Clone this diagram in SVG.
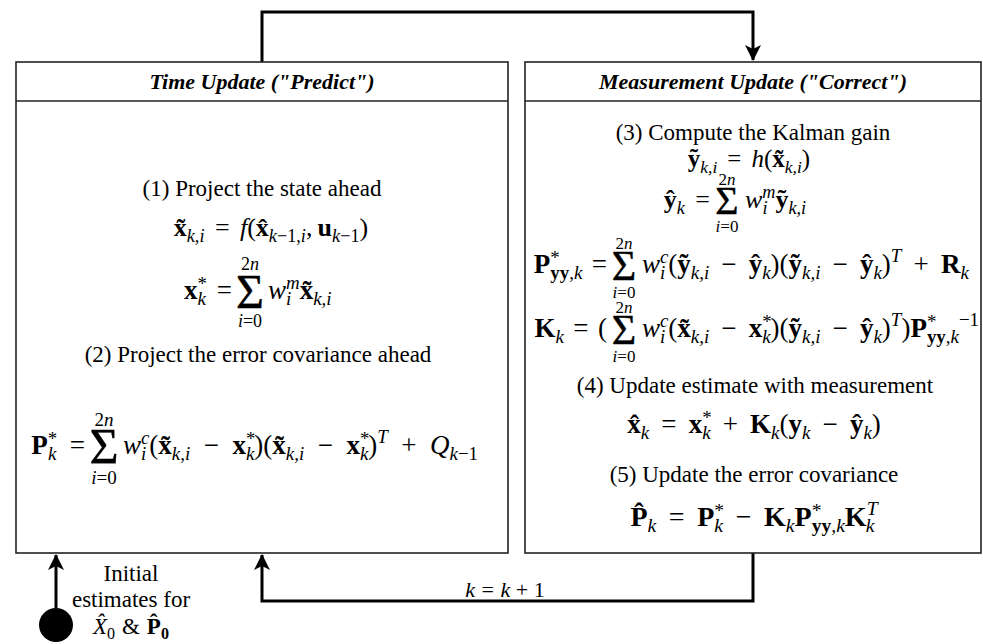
<svg xmlns="http://www.w3.org/2000/svg" width="983" height="644" viewBox="0 0 983 644">
<style>
.box{fill:#fff;stroke:#222;stroke-width:1.6}
.con{fill:none;stroke:#000;stroke-width:3}
.hd{font-family:"Liberation Serif",serif;font-size:22px;font-weight:bold;font-style:italic;fill:#000}
.t{font-family:"Liberation Serif",serif;font-size:23px;fill:#000}
.m{font-family:"Liberation Serif",serif;fill:#000}
.i{font-style:italic}
.b{font-weight:bold}
.s{font-size:0.7em}
.sig{font-family:"Liberation Serif",serif;fill:#000;stroke:#000;stroke-width:0.4}
.lim{font-family:"Liberation Serif",serif;fill:#000}
</style>
<defs>
<marker id="ah" markerUnits="userSpaceOnUse" markerWidth="16" markerHeight="16" viewBox="0 0 16 16" refX="15" refY="8" orient="auto">
<path d="M0,0 L16,8 L0,16 L4,8 Z" fill="#000"/>
</marker>
</defs>

<g id="connectors">
<path class="con" d="M262,62 V12 H753 V60" marker-end="url(#ah)"/>
<path class="con" d="M753,553 V601 H262 V555" marker-end="url(#ah)"/>
<path class="con" d="M56,608 V555" marker-end="url(#ah)"/>
<text class="m" x="505" y="597" font-size="22" text-anchor="middle"><tspan class="i">k</tspan><tspan dx="0.3em">=</tspan><tspan class="i" dx="0.3em">k</tspan><tspan dx="0.25em">+</tspan><tspan dx="0.25em">1</tspan></text>
</g>

<g id="time-update">
<rect class="box" x="16" y="62" width="492" height="491"/>
<line x1="16" y1="101" x2="508" y2="101" stroke="#222" stroke-width="1.6"/>
<text class="hd" x="262" y="89" text-anchor="middle">Time Update ("Predict")</text>
<text class="t" x="262" y="196" text-anchor="middle">(1) Project the state ahead</text>
<text class="m" x="271" y="236" font-size="26" text-anchor="middle"><tspan class="b">x&#x303;</tspan><tspan class="s i" dy="0.32em">k,i</tspan><tspan dx="0.4em" dy="-0.224em">=</tspan><tspan class="i" dx="0.4em">f</tspan><tspan>(</tspan><tspan class="b">x&#x302;</tspan><tspan class="s" dy="0.32em"><tspan class="i">k</tspan>−1,<tspan class="i">i</tspan></tspan><tspan dy="-0.224em">,</tspan><tspan class="b" dx="0.2em">u</tspan><tspan class="s" dy="0.32em"><tspan class="i">k</tspan>−1</tspan><tspan dy="-0.224em">)</tspan></text>
<text class="m" x="232" y="299" font-size="27" text-anchor="end"><tspan class="b">x</tspan><tspan class="s" dy="-0.45em">*</tspan><tspan class="s i" dx="-0.5em" dy="0.77em">k</tspan><tspan dx="0.4em" dy="-0.224em">=</tspan></text>
<text class="sig" x="250" y="308" font-size="48" text-anchor="middle">Σ</text>
<text class="lim" x="250" y="270" font-size="18" text-anchor="middle">2<tspan class="i">n</tspan></text>
<text class="lim" x="250" y="327" font-size="18" text-anchor="middle"><tspan class="i">i</tspan>=0</text>
<text class="m" x="268" y="299" font-size="27"><tspan class="i">w</tspan><tspan class="s i" dy="-0.55em">m</tspan><tspan class="s i" dx="-0.72em" dy="0.87em">i</tspan><tspan class="b" dx="0.31em" dy="-0.224em">x&#x303;</tspan><tspan class="s i" dy="0.32em">k,i</tspan></text>
<text class="t" x="258" y="362" text-anchor="middle">(2) Project the error covariance ahead</text>
<text class="m" x="85" y="454" font-size="27" text-anchor="end"><tspan class="b">P</tspan><tspan class="s" dy="-0.45em">*</tspan><tspan class="s i" dx="-0.5em" dy="0.77em">k</tspan><tspan dx="0.5em" dy="-0.224em">=</tspan></text>
<text class="sig" x="104" y="463" font-size="50" text-anchor="middle">Σ</text>
<text class="lim" x="104" y="426" font-size="19" text-anchor="middle">2<tspan class="i">n</tspan></text>
<text class="lim" x="104" y="484" font-size="19" text-anchor="middle"><tspan class="i">i</tspan>=0</text>
<text class="m" x="123" y="454" font-size="27"><tspan class="i">w</tspan><tspan class="s i" dy="-0.55em">c</tspan><tspan class="s i" dx="-0.44em" dy="0.87em">i</tspan><tspan dx="0.11em" dy="-0.224em">(</tspan><tspan class="b">x&#x303;</tspan><tspan class="s i" dy="0.32em">k,i</tspan><tspan dx="0.5em" dy="-0.224em">−</tspan><tspan class="b" dx="0.5em">x</tspan><tspan class="s" dy="-0.45em">*</tspan><tspan class="s i" dx="-0.5em" dy="0.77em">k</tspan><tspan dy="-0.224em">)(</tspan><tspan class="b">x&#x303;</tspan><tspan class="s i" dy="0.32em">k,i</tspan><tspan dx="0.5em" dy="-0.224em">−</tspan><tspan class="b" dx="0.5em">x</tspan><tspan class="s" dy="-0.45em">*</tspan><tspan class="s i" dx="-0.5em" dy="0.77em">k</tspan><tspan dy="-0.224em">)</tspan><tspan class="s i" dy="-0.6em">T</tspan><tspan dx="0.5em" dy="0.42em">+</tspan><tspan class="i" dx="0.5em">Q</tspan><tspan class="s" dy="0.32em"><tspan class="i">k</tspan>−1</tspan></text>
</g>

<g id="measurement-update">
<rect class="box" x="525" y="62" width="456" height="491"/>
<line x1="525" y1="101" x2="981" y2="101" stroke="#222" stroke-width="1.6"/>
<text class="hd" x="753" y="89" text-anchor="middle">Measurement Update ("Correct")</text>
<text class="t" x="753" y="140" text-anchor="middle">(3) Compute the Kalman gain</text>
<text class="m" x="749" y="167" font-size="25" text-anchor="middle"><tspan class="b">y&#x303;</tspan><tspan class="s i" dy="0.32em">k,i</tspan><tspan dx="0.4em" dy="-0.224em">=</tspan><tspan class="i" dx="0.4em">h</tspan><tspan>(</tspan><tspan class="b">x&#x303;</tspan><tspan class="s i" dy="0.32em">k,i</tspan><tspan dy="-0.224em">)</tspan></text>
<text class="m" x="710" y="208" font-size="26" text-anchor="end"><tspan class="b">y&#x302;</tspan><tspan class="s i" dy="0.32em">k</tspan><tspan dx="0.4em" dy="-0.224em">=</tspan></text>
<text class="sig" x="727" y="214" font-size="40" text-anchor="middle">Σ</text>
<text class="lim" x="727" y="185" font-size="17" text-anchor="middle">2<tspan class="i">n</tspan></text>
<text class="lim" x="727" y="232" font-size="17" text-anchor="middle"><tspan class="i">i</tspan>=0</text>
<text class="m" x="745" y="208" font-size="26"><tspan class="i">w</tspan><tspan class="s i" dy="-0.55em">m</tspan><tspan class="s i" dx="-0.72em" dy="0.87em">i</tspan><tspan class="b" dx="0.31em" dy="-0.224em">y&#x303;</tspan><tspan class="s i" dy="0.32em">k,i</tspan></text>
<text class="m" x="607" y="273" font-size="27" text-anchor="end"><tspan class="b">P</tspan><tspan class="s" dy="-0.45em">*</tspan><tspan class="s" dx="-0.5em" dy="0.77em"><tspan class="b">yy</tspan>,<tspan class="i">k</tspan></tspan><tspan dx="0.35em" dy="-0.224em">=</tspan></text>
<text class="sig" x="624" y="280" font-size="42" text-anchor="middle">Σ</text>
<text class="lim" x="624" y="249" font-size="17" text-anchor="middle">2<tspan class="i">n</tspan></text>
<text class="lim" x="624" y="298" font-size="17" text-anchor="middle"><tspan class="i">i</tspan>=0</text>
<text class="m" x="642" y="273" font-size="27"><tspan class="i">w</tspan><tspan class="s i" dy="-0.55em">c</tspan><tspan class="s i" dx="-0.44em" dy="0.87em">i</tspan><tspan dx="0.11em" dy="-0.224em">(</tspan><tspan class="b">y&#x303;</tspan><tspan class="s i" dy="0.32em">k,i</tspan><tspan dx="0.45em" dy="-0.224em">−</tspan><tspan class="b" dx="0.45em">y&#x302;</tspan><tspan class="s i" dy="0.32em">k</tspan><tspan dy="-0.224em">)(</tspan><tspan class="b">y&#x303;</tspan><tspan class="s i" dy="0.32em">k,i</tspan><tspan dx="0.45em" dy="-0.224em">−</tspan><tspan class="b" dx="0.45em">y&#x302;</tspan><tspan class="s i" dy="0.32em">k</tspan><tspan dy="-0.224em">)</tspan><tspan class="s i" dy="-0.6em">T</tspan><tspan dx="0.45em" dy="0.42em">+</tspan><tspan class="b" dx="0.45em">R</tspan><tspan class="s i" dy="0.32em">k</tspan></text>
<text class="m" x="607" y="337" font-size="27" text-anchor="end"><tspan class="b">K</tspan><tspan class="s i" dy="0.32em">k</tspan><tspan dx="0.35em" dy="-0.224em">=</tspan><tspan dx="0.35em">(</tspan></text>
<text class="sig" x="624" y="344" font-size="42" text-anchor="middle">Σ</text>
<text class="lim" x="624" y="313" font-size="17" text-anchor="middle">2<tspan class="i">n</tspan></text>
<text class="lim" x="624" y="362" font-size="17" text-anchor="middle"><tspan class="i">i</tspan>=0</text>
<text class="m" x="642" y="337" font-size="27"><tspan class="i">w</tspan><tspan class="s i" dy="-0.55em">c</tspan><tspan class="s i" dx="-0.44em" dy="0.87em">i</tspan><tspan dx="0.11em" dy="-0.224em">(</tspan><tspan class="b">x&#x303;</tspan><tspan class="s i" dy="0.32em">k,i</tspan><tspan dx="0.45em" dy="-0.224em">−</tspan><tspan class="b" dx="0.45em">x</tspan><tspan class="s" dy="-0.45em">*</tspan><tspan class="s i" dx="-0.5em" dy="0.77em">k</tspan><tspan dy="-0.224em">)(</tspan><tspan class="b">y&#x303;</tspan><tspan class="s i" dy="0.32em">k,i</tspan><tspan dx="0.45em" dy="-0.224em">−</tspan><tspan class="b" dx="0.45em">y&#x302;</tspan><tspan class="s i" dy="0.32em">k</tspan><tspan dy="-0.224em">)</tspan><tspan class="s i" dy="-0.6em">T</tspan><tspan dy="0.42em">)</tspan><tspan class="b">P</tspan><tspan class="s" dy="-0.45em">*</tspan><tspan class="s" dx="-0.5em" dy="0.77em"><tspan class="b">yy</tspan>,<tspan class="i">k</tspan></tspan><tspan class="s" dy="-0.92em">−1</tspan></text>
<text class="t" x="755" y="393" text-anchor="middle">(4) Update estimate with measurement</text>
<text class="m" x="754" y="433" font-size="27" text-anchor="middle"><tspan class="b">x&#x302;</tspan><tspan class="s i" dy="0.32em">k</tspan><tspan dx="0.45em" dy="-0.224em">=</tspan><tspan class="b" dx="0.45em">x</tspan><tspan class="s" dy="-0.45em">*</tspan><tspan class="s i" dx="-0.5em" dy="0.77em">k</tspan><tspan dx="0.45em" dy="-0.224em">+</tspan><tspan class="b" dx="0.45em">K</tspan><tspan class="s i" dy="0.32em">k</tspan><tspan dy="-0.224em">(</tspan><tspan class="b">y</tspan><tspan class="s i" dy="0.32em">k</tspan><tspan dx="0.45em" dy="-0.224em">−</tspan><tspan class="b" dx="0.45em">y&#x302;</tspan><tspan class="s i" dy="0.32em">k</tspan><tspan dy="-0.224em">)</tspan></text>
<text class="t" x="754" y="482" text-anchor="middle">(5) Update the error covariance</text>
<text class="m" x="754" y="526" font-size="28" text-anchor="middle"><tspan class="b">P&#x302;</tspan><tspan class="s i" dy="0.32em">k</tspan><tspan dx="0.45em" dy="-0.224em">=</tspan><tspan class="b" dx="0.45em">P</tspan><tspan class="s" dy="-0.45em">*</tspan><tspan class="s i" dx="-0.5em" dy="0.77em">k</tspan><tspan dx="0.45em" dy="-0.224em">−</tspan><tspan class="b" dx="0.45em">K</tspan><tspan class="s i" dy="0.32em">k</tspan><tspan class="b" dy="-0.224em">P</tspan><tspan class="s" dy="-0.45em">*</tspan><tspan class="s" dx="-0.5em" dy="0.77em"><tspan class="b">yy</tspan>,<tspan class="i">k</tspan></tspan><tspan class="b" dy="-0.224em">K</tspan><tspan class="s i" dy="-0.55em">T</tspan><tspan class="s i" dx="-0.6em" dy="0.87em">k</tspan></text>
</g>

<g id="initial-estimates">
<circle cx="56" cy="625" r="17" fill="#000"/>
<text class="t" x="131" y="581" text-anchor="middle">Initial</text>
<text class="t" x="131" y="607" text-anchor="middle">estimates for</text>
<text class="m" x="131" y="634" font-size="23" text-anchor="middle"><tspan class="i">X&#x302;</tspan><tspan class="s" dy="0.32em">0</tspan><tspan dx="0.3em" dy="-0.224em">&amp;</tspan><tspan class="b" dx="0.3em">P&#x302;</tspan><tspan class="s b" dy="0.32em">0</tspan></text>
</g>
</svg>
